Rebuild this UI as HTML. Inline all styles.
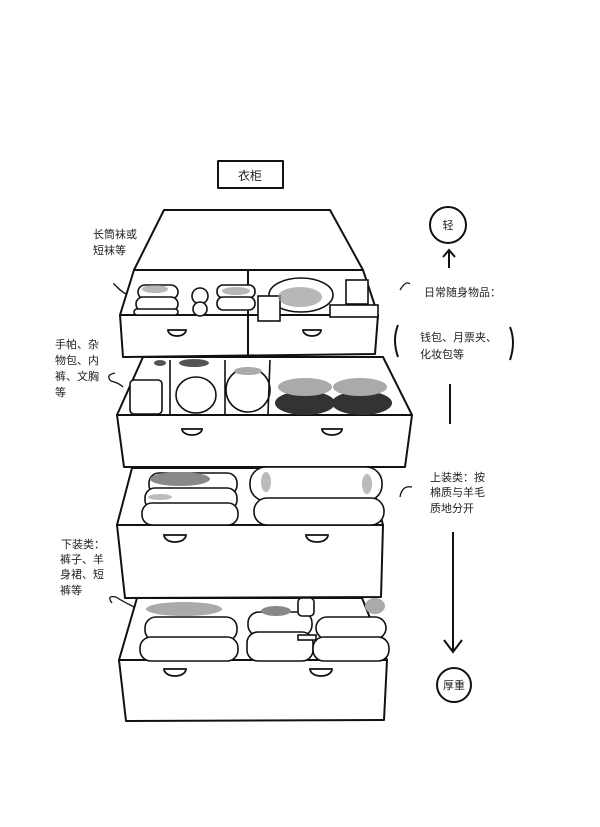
<!DOCTYPE html>
<html><head><meta charset="utf-8"><style>
html,body{margin:0;padding:0;background:#fff;}
svg{display:block}
text{font-family:"Liberation Sans","Noto Sans CJK SC",sans-serif;fill:#222;}
</style></head><body>
<svg width="600" height="827" viewBox="0 0 600 827" xmlns="http://www.w3.org/2000/svg">
<g fill="none" stroke="#111" stroke-width="2" stroke-linejoin="round" stroke-linecap="round">
<!-- sign -->
<rect x="218" y="161" width="65" height="27" fill="#fff"/>
<!-- lid -->
<path d="M164 210 L330 210 L363 270 L134 270 Z" fill="#fff"/>
<!-- drawer 4 (bottom) -->
<path d="M137 598 L362 598 L387 660 L119 660 Z" fill="#fff"/>
<path d="M119 660 L387 660 L384 720 L126 721 Z" fill="#fff"/>
<!-- drawer 3 -->
<path d="M132 468 L368 468 L383 525 L117 525 Z" fill="#fff"/>
<path d="M117 525 L383 525 L381 597 L125 598 Z" fill="#fff"/>
<!-- drawer 2 -->
<path d="M143 357 L383 357 L412 415 L117 415 Z" fill="#fff"/>
<path d="M117 415 L412 415 L405 467 L124 467 Z" fill="#fff"/>
<!-- drawer 1 -->
<path d="M134 270 L363 270 L378 315 L120 315 Z" fill="#fff"/>
<path d="M120 315 L378 315 L375 354 L123 357 Z" fill="#fff"/>
<line x1="248" y1="270" x2="248" y2="356"/>
</g>
<!-- contents drawer1 -->
<g stroke="#111" stroke-width="1.6" fill="#fff">
<rect x="138" y="285" width="40" height="14" rx="7"/>
<rect x="136" y="297" width="42" height="14" rx="7"/>
<rect x="134" y="309" width="44" height="6" rx="3"/>
<circle cx="200" cy="296" r="8"/><circle cx="200" cy="309" r="7"/>
<rect x="217" y="285" width="38" height="13" rx="6"/>
<rect x="217" y="297" width="38" height="13" rx="6"/>
<ellipse cx="301" cy="295" rx="32" ry="17"/>
<rect x="258" y="296" width="22" height="25"/>
<rect x="330" y="305" width="48" height="12"/>
<rect x="346" y="280" width="22" height="24"/>
</g>
<g fill="#999" opacity="0.7"><ellipse cx="155" cy="289" rx="13" ry="4"/><ellipse cx="236" cy="291" rx="14" ry="4"/><ellipse cx="300" cy="297" rx="22" ry="10"/></g>
<!-- contents drawer2 -->
<g stroke="#111" stroke-width="1.6" fill="#fff">
<rect x="130" y="380" width="32" height="34" rx="4"/>
<ellipse cx="196" cy="395" rx="20" ry="18"/>
<ellipse cx="248" cy="390" rx="22" ry="22"/>
<line x1="170" y1="360" x2="170" y2="414"/><line x1="225" y1="360" x2="225" y2="414"/><line x1="270" y1="360" x2="268" y2="414"/>
</g>
<g fill="#333"><ellipse cx="305" cy="403" rx="30" ry="12"/><ellipse cx="362" cy="403" rx="30" ry="12"/></g>
<g fill="#aaa"><ellipse cx="305" cy="387" rx="27" ry="9"/><ellipse cx="360" cy="387" rx="27" ry="9"/><ellipse cx="248" cy="371" rx="14" ry="4"/></g>
<g fill="#555"><ellipse cx="194" cy="363" rx="15" ry="4"/><ellipse cx="160" cy="363" rx="6" ry="3"/></g>
<!-- contents drawer3 -->
<g stroke="#111" stroke-width="1.6" fill="#fff">
<rect x="149" y="473" width="88" height="22" rx="10"/>
<rect x="145" y="488" width="92" height="22" rx="10"/>
<rect x="142" y="503" width="96" height="22" rx="10"/>
<rect x="250" y="467" width="132" height="34" rx="16"/>
<rect x="254" y="498" width="130" height="27" rx="13"/>
</g>
<g fill="#888"><ellipse cx="180" cy="479" rx="30" ry="7"/></g>
<g fill="#bbb"><ellipse cx="160" cy="497" rx="12" ry="3"/><ellipse cx="266" cy="482" rx="5" ry="10"/><ellipse cx="367" cy="484" rx="5" ry="10"/></g>
<!-- contents drawer4 -->
<g stroke="#111" stroke-width="1.6" fill="#fff">
<rect x="145" y="617" width="92" height="24" rx="11"/>
<rect x="140" y="637" width="98" height="24" rx="11"/>
<rect x="248" y="612" width="64" height="24" rx="11"/>
<rect x="247" y="632" width="66" height="29" rx="11"/>
<rect x="298" y="598" width="16" height="18" rx="4"/>
<rect x="316" y="617" width="70" height="22" rx="11"/>
<rect x="298" y="635" width="18" height="5"/>
<rect x="313" y="637" width="76" height="24" rx="11"/>
</g>
<g fill="#aaa"><ellipse cx="184" cy="609" rx="38" ry="7"/><ellipse cx="375" cy="606" rx="10" ry="8"/></g>
<g fill="#888"><ellipse cx="276" cy="611" rx="15" ry="5"/></g>
<!-- handles -->
<g fill="#fff" stroke="#111" stroke-width="1.8">
<path d="M168 330 H186 A9 6 0 0 1 168 330 Z"/><path d="M303 330 H321 A9 6 0 0 1 303 330 Z"/>
<path d="M182 429 H202 A10 6 0 0 1 182 429 Z"/><path d="M322 429 H342 A10 6 0 0 1 322 429 Z"/>
<path d="M164 535 H186 A11 7 0 0 1 164 535 Z"/><path d="M306 535 H328 A11 7 0 0 1 306 535 Z"/>
<path d="M164 669 H186 A11 7 0 0 1 164 669 Z"/><path d="M310 669 H332 A11 7 0 0 1 310 669 Z"/>
</g>
<!-- right side -->
<g fill="none" stroke="#111" stroke-width="2">
<circle cx="448" cy="225" r="18"/>
<line x1="449" y1="250" x2="449" y2="268"/><path d="M443 257 L449 250 L455 257"/>
<path d="M398 325 Q392 340 398 357"/><path d="M510 327 Q516 342 510 360"/>
<line x1="450" y1="384" x2="450" y2="424"/>
<line x1="453" y1="532" x2="453" y2="650"/><path d="M444 640 L453 652 L462 640"/>
<circle cx="454" cy="685" r="17"/>
<path d="M120 290 q-10 -10 -4 -4 q6 6 10 8" stroke-width="1.3"/>
<path d="M400 290 q6 -10 10 -6" stroke-width="1.3"/>
<path d="M115 373 q-10 2 -4 8 q8 2 12 6" stroke-width="1.3"/>
<path d="M400 497 q2 -12 12 -10" stroke-width="1.3"/>
<path d="M112 603 q-6 -8 4 -6 q6 4 18 10" stroke-width="1.3"/>
</g>
<g font-size="11">
<text x="250" y="180" text-anchor="middle" font-size="12">衣柜</text>
<text x="448" y="229" text-anchor="middle">轻</text>
<text x="454" y="689" text-anchor="middle">厚重</text>
<text x="424" y="296">日常随身物品：</text>
<text x="420" y="341">钱包、月票夹、</text>
<text x="420" y="358">化妆包等</text>
<text x="430" y="481">上装类：按</text>
<text x="430" y="496">棉质与羊毛</text>
<text x="430" y="512">质地分开</text>
<text x="93" y="238">长筒袜或</text>
<text x="93" y="254">短袜等</text>
<text x="55" y="348">手帕、杂</text>
<text x="55" y="364">物包、内</text>
<text x="55" y="380">裤、文胸</text>
<text x="55" y="396">等</text>
<text x="61" y="548">下装类：</text>
<text x="60" y="563">裤子、羊</text>
<text x="60" y="578">身裙、短</text>
<text x="60" y="594">裤等</text>
</g>
</svg>
</body></html>
